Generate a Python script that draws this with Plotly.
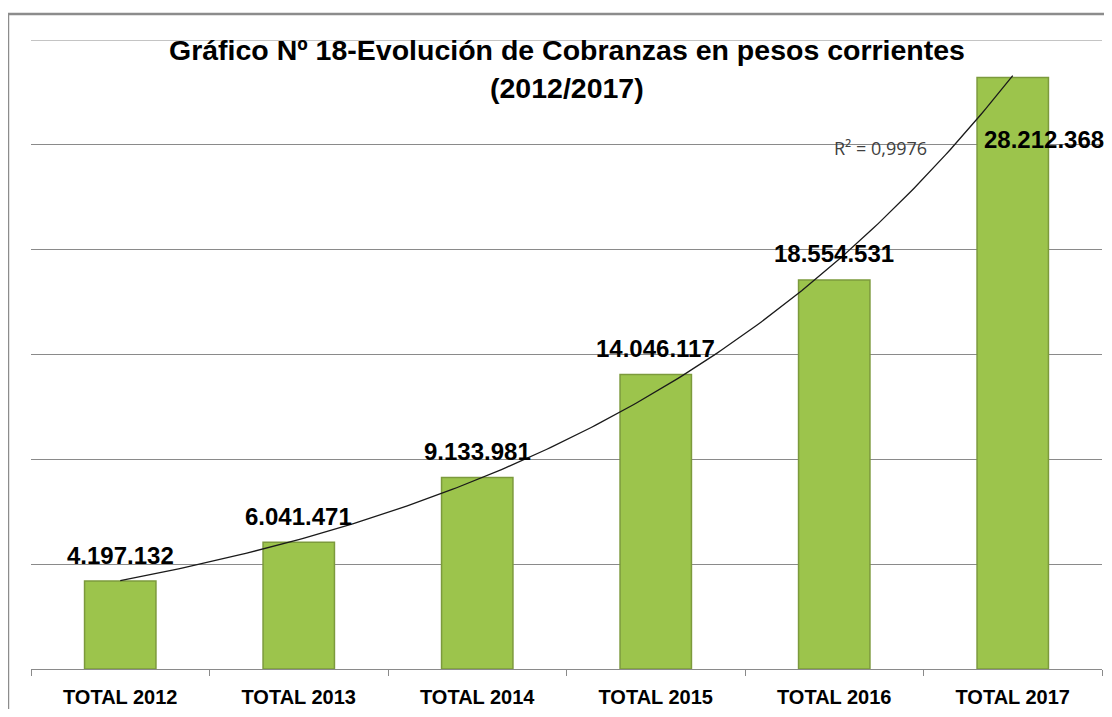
import numpy as np
import plotly.graph_objects as go

categories = ["TOTAL 2012", "TOTAL 2013", "TOTAL 2014", "TOTAL 2015", "TOTAL 2016", "TOTAL 2017"]
cobranzas = [4197132, 6041471, 9133981, 14046117, 18554531, 28212368]
labels = ["4.197.132", "6.041.471", "9.133.981", "14.046.117", "18.554.531", "28.212.368"]
r2_text = "R² = 0,9976"
y_max = 30e6

# exponential trend line (like Excel's), fitted on the bar values
idx = np.arange(len(cobranzas))
b, ln_a = np.polyfit(idx, np.log(cobranzas), 1)
tx = np.linspace(0, len(cobranzas) - 1, 200)
ty = np.exp(ln_a + b * tx)

GRID = "#8a8a8a"

fig = go.Figure()
fig.add_trace(go.Bar(
    x=categories, y=cobranzas, width=0.4,
    marker=dict(color="#9cc44c", line=dict(color="#7c9a3c", width=1.5)),
    hoverinfo="x+y", showlegend=False,
))
fig.add_trace(go.Scatter(
    x=tx, y=ty, xaxis="x2", mode="lines",
    line=dict(color="#1a1a1a", width=1.3), showlegend=False, hoverinfo="skip",
))

# data labels (the last one sits inside its bar, nudged right)
for i, (c, v, t) in enumerate(zip(categories, cobranzas, labels)):
    last = i == len(categories) - 1
    fig.add_annotation(
        x=c, y=v, text=t, showarrow=False, xanchor="center", yanchor="middle",
        xshift=31 if last else 0, yshift=-62 if last else 26,
        font=dict(family="Arial", size=24, color="black", weight="bold"),
    )

fig.add_annotation(x=0.793, y=0.828, xref="paper", yref="paper", text=r2_text,
                   showarrow=False, xanchor="center", yanchor="middle",
                   font=dict(family="Open Sans", size=18, color="#404040"))

# title (two lines)
title_font = dict(family="Arial", size=28.5, color="black", weight="bold")
fig.add_annotation(x=0.5, y=0.984, xref="paper", yref="paper", showarrow=False,
                   xanchor="center", yanchor="middle",
                   text="Gráfico Nº 18-Evolución de Cobranzas en pesos corrientes", font=title_font)
fig.add_annotation(x=0.5, y=0.924, xref="paper", yref="paper", showarrow=False,
                   xanchor="center", yanchor="middle", text="(2012/2017)", font=title_font)

# top gridline at the edge of the range
fig.add_shape(type="line", xref="paper", yref="y", x0=0, x1=1, y0=y_max, y1=y_max,
              line=dict(color=GRID, width=1), layer="below")

# outer chart border (cropped on right and bottom)
fig.add_shape(type="rect", xref="paper", yref="paper", x0=-0.0215, x1=1.05, y0=-0.2, y1=1.0413,
              line=dict(color="#8c8c8c", width=2.5), layer="below")

# page body has an 8px margin; keep the figure small enough to avoid scrollbars
fig.update_layout(
    width=1104, height=701,
    margin=dict(l=23, r=10, t=32, b=40, autoexpand=False),
    paper_bgcolor="white", plot_bgcolor="white",
    xaxis=dict(
        type="category", range=[-0.5, len(categories) - 0.5],
        tickson="boundaries", ticks="outside", ticklen=6,
        tickcolor=GRID, showline=True, linecolor=GRID, linewidth=1,
        tickfont=dict(family="Arial", size=20, color="black", weight="bold"),
        ticklabelstandoff=10, showgrid=False, automargin=False,
    ),
    xaxis2=dict(overlaying="x", range=[-0.5, len(categories) - 0.5], visible=False, anchor="y"),
    yaxis=dict(range=[0, y_max], dtick=5e6, showticklabels=False, automargin=False,
               gridcolor=GRID, gridwidth=1, zeroline=False, showline=False),
)

fig.write_html("out.html")
